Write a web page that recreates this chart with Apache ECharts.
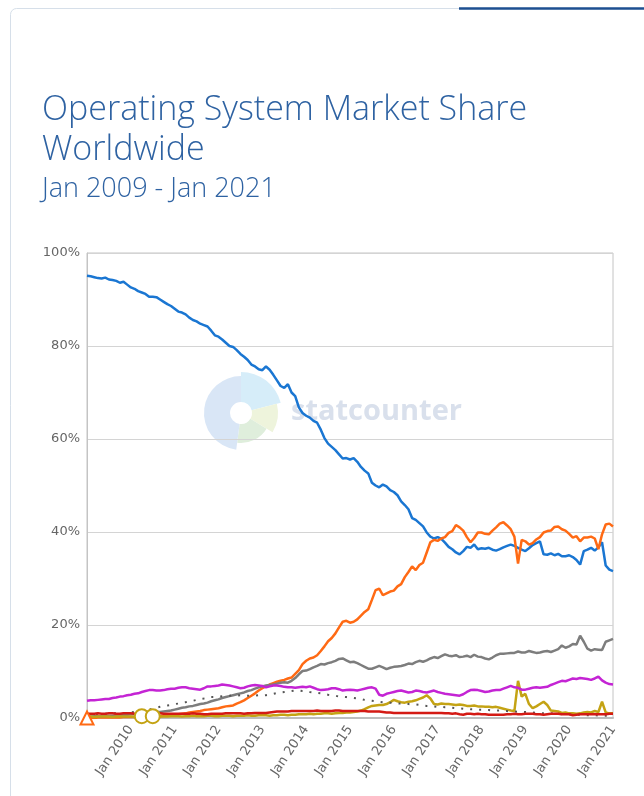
<!DOCTYPE html>
<html>
<head>
<meta charset="utf-8">
<script src="https://cdn.jsdelivr.net/npm/echarts@6/dist/echarts.min.js"></script>
<style>
	html, body { margin: 0; padding: 0; background: #fff; }
	#main { width: 644px; height: 796px; }
</style>
</head>
<body>
<div id="main"></div>
<script>
// monthly share in %, Jan 2009 .. Jan 2021 (one row per year)
var monthNames = ['Jan', 'Feb', 'Mar', 'Apr', 'May', 'Jun', 'Jul', 'Aug', 'Sep', 'Oct', 'Nov', 'Dec'];
var months = [];
for (var y = 2009; y <= 2021; y++) {
	for (var mo = 0; mo < 12; mo++) {
		if (y == 2021 && mo > 0) break;
		months.push(monthNames[mo] + ' ' + y);
	}
}
var yTicks = [0, 20, 40, 60, 80, 100];

var windows = [
	95.1, 95.0, 94.8, 94.6, 94.5, 94.7, 94.3, 94.2, 94.0, 93.6, 93.8, 93.2,
	92.6, 92.3, 91.8, 91.5, 91.2, 90.6, 90.6, 90.5, 90.0, 89.5, 89.0, 88.6,
	88.0, 87.4, 87.2, 86.8, 86.1, 85.6, 85.3, 84.8, 84.5, 84.2, 83.3, 82.3,
	82.0, 81.4, 80.7, 80.0, 79.8, 79.1, 78.3, 77.7, 77.0, 76.0, 75.6, 75.0,
	74.8, 75.6, 74.9, 73.8, 72.6, 71.4, 71.0, 71.8, 70.0, 69.2, 66.8, 65.6,
	65.0, 64.6, 63.9, 63.5, 62.0, 60.2, 59.0, 58.3, 57.6, 56.7, 55.8, 55.9,
	55.6, 55.9, 55.1, 54.0, 53.2, 52.6, 50.6, 50.0, 49.6, 50.2, 49.8, 49.0,
	48.6, 47.9, 46.6, 45.8, 44.9, 43.0, 42.6, 41.9, 41.2, 39.9, 39.0, 38.6,
	38.9, 38.5, 37.7, 36.8, 36.3, 35.6, 35.2, 35.9, 36.8, 36.6, 37.3, 36.3,
	36.5, 36.4, 36.6, 36.2, 36.0, 36.3, 36.7, 37.0, 37.3, 37.0, 36.6, 36.2,
	35.9, 36.5, 37.2, 37.6, 38.0, 35.2, 35.1, 35.4, 35.0, 35.3, 34.8, 34.8,
	35.0, 34.6, 34.0, 33.0, 35.9, 36.2, 36.6, 36.0, 36.7, 37.8, 32.8, 31.9,
	31.6
];
var android = [
	0.0, 0.0, 0.0, 0.1, 0.1, 0.1, 0.1, 0.1, 0.1, 0.1, 0.2, 0.2,
	0.2, 0.2, 0.2, 0.3, 0.3, 0.3, 0.4, 0.4, 0.4, 0.5, 0.5, 0.6,
	0.7, 0.8, 0.9, 1.0, 1.2, 1.3, 1.4, 1.5, 1.7, 1.8, 1.9, 2.0,
	2.1, 2.3, 2.5, 2.6, 2.7, 3.1, 3.4, 3.8, 4.3, 4.8, 5.3, 5.9,
	6.4, 6.8, 7.2, 7.5, 7.8, 8.0, 8.2, 8.5, 8.7, 9.5, 10.3, 11.6,
	12.3, 12.8, 13.0, 13.5, 14.4, 15.4, 16.5, 17.2, 18.2, 19.5, 20.7, 20.9,
	20.5, 20.7, 21.2, 22.0, 22.8, 23.4, 25.4, 27.5, 27.8, 26.4, 26.8, 27.2,
	27.4, 28.3, 28.8, 30.3, 31.4, 32.6, 31.8, 32.9, 33.4, 35.6, 37.8, 38.3,
	38.1, 38.6, 38.9, 39.8, 40.2, 41.5, 41.0, 40.3, 38.9, 37.8, 38.7, 39.9,
	39.9, 39.6, 39.5, 40.3, 41.0, 41.8, 42.1, 41.4, 40.6, 39.0, 33.2, 38.3,
	38.0, 37.3, 37.6, 38.4, 38.9, 39.9, 40.2, 40.3, 41.1, 41.2, 40.6, 40.3,
	39.6, 38.8, 39.1, 38.0, 38.8, 38.8, 39.0, 38.6, 36.3, 39.5, 41.6, 41.8,
	41.2
];
var ios = [
	0.3, 0.3, 0.4, 0.4, 0.4, 0.5, 0.5, 0.5, 0.6, 0.6, 0.7, 0.7,
	0.8, 0.8, 0.9, 0.9, 1.0, 1.1, 1.2, 1.3, 1.3, 1.4, 1.5, 1.6,
	1.8, 2.0, 2.2, 2.3, 2.5, 2.6, 2.8, 3.0, 3.1, 3.3, 3.6, 3.8,
	4.0, 4.3, 4.5, 4.7, 4.9, 5.1, 5.3, 5.5, 5.8, 6.0, 6.3, 6.6,
	6.8, 7.0, 7.1, 7.2, 7.4, 7.6, 7.7, 7.6, 8.0, 8.6, 9.4, 10.1,
	10.2, 10.5, 10.9, 11.2, 11.6, 11.5, 11.8, 12.0, 12.3, 12.7, 12.8, 12.4,
	12.0, 12.1, 11.8, 11.4, 11.0, 10.6, 10.6, 10.9, 11.2, 10.9, 10.5, 10.8,
	11.0, 11.1, 11.2, 11.4, 11.7, 11.6, 12.0, 12.3, 12.1, 12.4, 12.8, 13.1,
	12.9, 13.3, 13.7, 13.4, 13.3, 13.5, 13.1, 13.2, 13.4, 13.1, 13.6, 13.2,
	13.1, 12.8, 12.6, 13.0, 13.5, 13.8, 13.8, 13.9, 14.0, 14.0, 14.3, 14.1,
	14.1, 14.4, 14.2, 14.0, 14.1, 14.3, 14.4, 14.2, 14.5, 14.8, 15.6, 15.1,
	15.4, 15.9, 15.8, 17.7, 16.4, 14.9, 14.5, 14.8, 14.7, 14.6, 16.4, 16.7,
	17.0
];
var osx = [
	3.7, 3.8, 3.8, 3.9, 4.0, 4.1, 4.1, 4.3, 4.4, 4.6, 4.7, 4.9,
	5.0, 5.2, 5.3, 5.6, 5.8, 6.0, 6.0, 5.9, 5.9, 6.0, 6.2, 6.3,
	6.3, 6.5, 6.6, 6.6, 6.4, 6.3, 6.2, 6.1, 6.4, 6.8, 6.8, 6.9,
	7.0, 7.2, 7.1, 7.0, 6.8, 6.6, 6.4, 6.5, 6.8, 7.0, 7.1, 7.0,
	6.9, 6.6, 6.8, 7.0, 7.0, 6.9, 6.7, 6.6, 6.6, 6.5, 6.6, 6.7,
	6.6, 6.8, 6.5, 6.2, 6.0, 6.1, 6.2, 6.4, 6.4, 6.2, 5.9, 6.0,
	6.1, 6.0, 5.9, 6.1, 6.3, 6.5, 6.6, 6.3, 5.0, 4.8, 5.2, 5.4,
	5.6, 5.8, 5.9, 5.7, 5.5, 5.6, 5.9, 5.8, 5.6, 5.5, 5.7, 5.9,
	5.6, 5.4, 5.2, 5.1, 5.0, 4.9, 4.8, 5.1, 5.6, 6.0, 6.1, 6.0,
	5.8, 5.6, 5.7, 5.9, 6.0, 6.0, 6.3, 6.6, 6.9, 6.6, 6.5, 6.1,
	6.1, 6.3, 6.5, 6.6, 6.5, 6.6, 6.7, 7.1, 7.4, 7.7, 8.0, 7.9,
	8.2, 8.5, 8.4, 8.6, 8.5, 8.4, 8.2, 8.5, 8.9, 8.1, 7.6, 7.3,
	7.2
];
var unknown = [
	0.3, 0.3, 0.2, 0.3, 0.3, 0.3, 0.3, 0.2, 0.3, 0.3, 0.3, 0.3,
	0.3, 0.2, 0.3, 0.4, 0.3, 0.3, 0.4, 0.3, 0.3, 0.3, 0.3, 0.4,
	0.4, 0.4, 0.3, 0.4, 0.4, 0.5, 0.4, 0.4, 0.4, 0.5, 0.5, 0.4,
	0.4, 0.5, 0.5, 0.5, 0.4, 0.5, 0.5, 0.5, 0.6, 0.5, 0.5, 0.6,
	0.6, 0.6, 0.5, 0.6, 0.6, 0.7, 0.7, 0.6, 0.7, 0.7, 0.8, 0.8,
	0.8, 0.9, 0.8, 0.9, 0.9, 1.0, 1.0, 0.9, 1.0, 1.1, 1.1, 1.2,
	1.2, 1.3, 1.4, 1.6, 1.9, 2.3, 2.6, 2.7, 2.8, 2.8, 3.0, 3.4,
	3.9, 3.6, 3.4, 3.3, 3.5, 3.6, 3.8, 4.1, 4.4, 4.9, 4.2, 3.0,
	2.9, 3.1, 3.0, 3.0, 2.9, 2.8, 2.9, 2.8, 2.6, 2.6, 2.7, 2.5,
	2.5, 2.4, 2.4, 2.3, 2.4, 2.2, 2.0, 1.8, 1.6, 1.5, 8.0, 4.6,
	5.2, 3.0, 2.1, 2.5, 3.0, 3.5, 2.8, 1.6, 1.5, 1.4, 1.1, 1.2,
	1.0, 1.0, 0.9, 1.0, 1.2, 1.3, 1.2, 1.5, 1.3, 3.5, 1.2, 1.0,
	1.0
];
var linux = [
	0.9, 0.9, 0.9, 1.0, 0.9, 0.9, 1.0, 1.0, 0.9, 0.9, 1.0, 1.0,
	1.0, 0.9, 0.9, 1.0, 1.0, 0.9, 0.9, 1.0, 1.0, 0.9, 0.9, 0.9,
	0.9, 0.9, 0.9, 0.9, 0.9, 1.0, 0.9, 0.9, 0.8, 0.8, 0.9, 0.9,
	0.9, 0.9, 1.0, 1.0, 1.0, 1.0, 1.0, 0.9, 1.0, 1.0, 1.1, 1.1,
	1.1, 1.1, 1.2, 1.3, 1.4, 1.4, 1.4, 1.4, 1.5, 1.5, 1.5, 1.5,
	1.5, 1.5, 1.5, 1.6, 1.5, 1.5, 1.5, 1.5, 1.6, 1.6, 1.5, 1.5,
	1.5, 1.5, 1.5, 1.5, 1.5, 1.4, 1.4, 1.4, 1.4, 1.3, 1.2, 1.2,
	1.1, 1.1, 1.1, 1.1, 1.1, 1.1, 1.1, 1.1, 1.1, 1.1, 1.1, 1.1,
	1.1, 1.1, 1.0, 1.0, 0.9, 1.0, 0.8, 0.7, 0.9, 0.9, 0.8, 0.9,
	0.8, 0.8, 0.7, 0.7, 0.7, 0.7, 0.7, 0.8, 0.8, 0.9, 0.8, 0.8,
	0.9, 0.9, 0.9, 0.8, 0.8, 0.7, 0.8, 0.9, 0.9, 0.9, 0.8, 0.8,
	0.8, 0.6, 0.7, 0.8, 0.8, 0.8, 0.8, 0.8, 0.8, 0.8, 0.8, 0.9,
	0.9
];
var other = [
	0.8, 0.8, 0.8, 0.9, 0.9, 0.9, 0.9, 1.0, 1.0, 1.0, 1.1, 1.1,
	1.2, 1.3, 1.4, 1.6, 1.7, 1.8, 2.0, 2.2, 2.4, 2.6, 2.7, 2.8,
	3.0, 3.1, 3.3, 3.4, 3.6, 3.7, 3.9, 4.1, 4.2, 4.4, 4.5, 4.5,
	4.6, 4.7, 4.8, 4.8, 4.9, 4.8, 4.9, 4.9, 4.8, 4.8, 4.8, 4.9,
	4.8, 4.9, 5.0, 5.2, 5.4, 5.5, 5.6, 5.7, 5.8, 5.9, 5.9, 5.8,
	5.8, 5.6, 5.5, 5.4, 5.3, 5.2, 5.0, 4.9, 4.8, 4.6, 4.6, 4.5,
	4.4, 4.3, 4.2, 4.1, 3.9, 3.8, 3.7, 3.6, 3.5, 3.4, 3.3, 3.3,
	3.2, 3.1, 3.1, 3.0, 3.0, 2.9, 2.9, 2.8, 2.7, 2.6, 2.6, 2.5,
	2.4, 2.4, 2.3, 2.3, 2.2, 2.1, 2.1, 2.0, 2.0, 1.9, 1.9, 1.8,
	1.8, 1.7, 1.7, 1.6, 1.6, 1.6, 1.5, 1.5, 1.4, 1.4, 1.3, 1.3,
	1.3, 1.2, 1.2, 1.1, 1.1, 1.0, 1.0, 1.0, 0.9, 0.9, 0.8, 0.8,
	0.8, 0.7, 0.7, 0.7, 0.6, 0.6, 0.6, 0.6, 0.5, 0.5, 0.5, 0.5,
	0.5
];

// single points shown with a marker in the original
var androidMarks = [0];
var unknownMarks = [15, 18];

function withMarks(arr, marks, symbol, size) {
	return arr.map(function (v, i) {
		if (marks.indexOf(i) >= 0) {
			return { value: v, symbol: symbol, symbolSize: size };
		}
		return v;
	});
}

var chart = echarts.init(document.getElementById('main'));
var titleColor = '#2e62a2';
var axisFont = 'DejaVu Sans';

function lineSeries(name, data, color, extra) {
	var s = {
		name: name,
		type: 'line',
		data: data,
		symbol: 'none',
		showAllSymbol: true,
		lineStyle: { color: color, width: 2.5 },
		itemStyle: { color: color, borderWidth: 1.5 },
		emphasis: { disabled: true }
	};
	for (var k in extra) s[k] = extra[k];
	return s;
}

var cx = 241, cy = 413;
var option = {
	animation: false,
	backgroundColor: '#fff',
	title: {
		text: 'Operating System Market Share\nWorldwide',
		subtext: 'Jan 2009 - Jan 2021',
		left: 37,
		top: 85,
		itemGap: 4,
		textStyle: {
			fontFamily: 'Open Sans',
			fontWeight: 300,
			fontSize: 34,
			lineHeight: 40,
			color: titleColor
		},
		subtextStyle: {
			fontFamily: 'Open Sans',
			fontWeight: 300,
			fontSize: 27,
			lineHeight: 30,
			color: titleColor
		}
	},
	graphic: [
		{ type: 'rect', z: -10, shape: { x: 10.5, y: 8.5, width: 700, height: 820, r: 6 }, style: { fill: '#fff', stroke: '#d6dfe9', lineWidth: 1 } },
		{ type: 'line', z: -9, shape: { x1: 459, y1: 8.5, x2: 644, y2: 8.5 }, style: { stroke: '#1d4f91', lineWidth: 2.5 } },
		// statcounter watermark
		{ type: 'sector', z: -5, shape: { cx: cx, cy: cy, r0: 11, r: 41, startAngle: -Math.PI / 2, endAngle: -0.25 }, style: { fill: '#d6edf9' } },
		{ type: 'sector', z: -5, shape: { cx: cx, cy: cy, r0: 11, r: 37, startAngle: -0.25, endAngle: 0.55 }, style: { fill: '#eef4dc' } },
		{ type: 'sector', z: -5, shape: { cx: cx, cy: cy, r0: 11, r: 30, startAngle: 0.55, endAngle: 1.7 }, style: { fill: '#dfeedc' } },
		{ type: 'sector', z: -5, shape: { cx: cx, cy: cy, r0: 11, r: 37, startAngle: 1.7, endAngle: Math.PI * 1.5 }, style: { fill: '#d9e6f6' } },
		{ type: 'text', z: -5, x: 291, y: 412, style: { text: 'statcounter', fill: '#d9e0ec', font: 'bold 29px "Open Sans"', textVerticalAlign: 'middle' } }
	],
	grid: {
		left: 87,
		right: 31,
		top: 253,
		bottom: 78,
		show: true,
		borderColor: '#c4c4c4',
		borderWidth: 1
	},
	xAxis: {
		type: 'category',
		data: months,
		boundaryGap: false,
		axisLine: { lineStyle: { color: '#bdbdbd', width: 2 } },
		axisTick: { show: false },
		axisLabel: {
			interval: function (index) { return index > 0 && index % 12 == 0; },
			rotate: 56,
			margin: 9,
			color: '#666',
			fontFamily: axisFont,
			fontSize: 13
		},
		splitLine: { show: false }
	},
	yAxis: {
		type: 'value',
		min: yTicks[0],
		max: yTicks[yTicks.length - 1],
		interval: yTicks[1] - yTicks[0],
		axisLine: { show: true, lineStyle: { color: '#c4c4c4' } },
		axisTick: { show: false },
		axisLabel: {
			formatter: '{value}%',
			margin: 7,
			color: '#666',
			fontFamily: axisFont,
			fontSize: 13
		},
		splitLine: { lineStyle: { color: '#d4d4d4' } }
	},
	series: [
		lineSeries('Windows', windows, '#1a76d2'),
		lineSeries('Android', withMarks(android, androidMarks, 'emptyTriangle', 13), '#ff6a14'),
		lineSeries('iOS', ios, '#7d7d7d'),
		lineSeries('Unknown', withMarks(unknown, unknownMarks, 'emptyCircle', 14), '#c4a314'),
		lineSeries('OS X', osx, '#c424d4'),
		lineSeries('Other', other, '#555', { lineStyle: { color: '#555', width: 2, type: [2, 7] } }),
		lineSeries('Linux', linux, '#d41a14')
	]
};
chart.setOption(option);
</script>
</body>
</html>
